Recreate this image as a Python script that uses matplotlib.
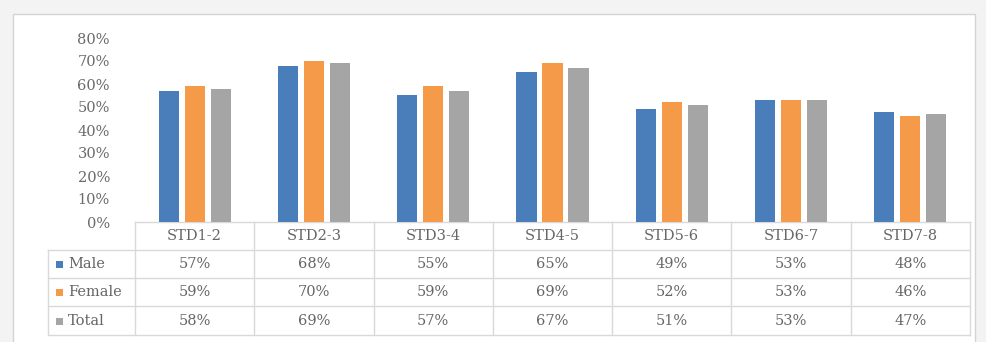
import matplotlib
matplotlib.use("Agg")
import matplotlib.pyplot as plt
from matplotlib.patches import Rectangle
from matplotlib.lines import Line2D
import matplotlib.transforms as mtransforms
import numpy as np

categories = ["STD1-2", "STD2-3", "STD3-4", "STD4-5", "STD5-6", "STD6-7", "STD7-8"]
series_names = ["Male", "Female", "Total"]
male = [57, 68, 55, 65, 49, 53, 48]
female = [59, 70, 59, 69, 52, 53, 46]
total = [58, 69, 57, 67, 51, 53, 47]
series_values = [male, female, total]
colors = ["#4a7ebb", "#f59a48", "#a5a5a5"]
yticks = [0, 10, 20, 30, 40, 50, 60, 70, 80]

W, H = 987, 342
fig = plt.figure(figsize=(W / 100, H / 100), dpi=100)
fig.patch.set_facecolor("#f3f3f3")

# pixel transform (origin top-left)
pix = mtransforms.Affine2D().scale(1, -1).translate(0, H).scale(1 / W, 1 / H) + fig.transFigure

# white panel
panel = Rectangle((13, 14), 962, 340, transform=pix, facecolor="white",
                  edgecolor="#d4d4d4", linewidth=1.0, zorder=-5)
fig.patches.append(panel)

ax_left, ax_right, y0, y80 = 135, 970, 222, 38
ax = fig.add_axes([ax_left / W, 1 - y0 / H, (ax_right - ax_left) / W, (y0 - y80) / H])
ax.set_facecolor("none")
ax.set_zorder(2)
n = len(categories)
x = np.arange(n) + 0.5
bw = 0.168
pitch = 0.218
for k, (vals, c) in enumerate(zip(series_values, colors)):
    ax.bar(x + (k - 1) * pitch, vals, width=bw, color=c, zorder=3)
ax.set_xlim(0, n)
ax.set_ylim(0, 80)
ax.set_yticks(yticks)
ax.set_yticklabels([f"{v}%" for v in yticks])
ax.set_xticks([])
for s in ["top", "right", "left"]:
    ax.spines[s].set_visible(False)
ax.spines["bottom"].set_color("#d9d9d9")
ax.spines["bottom"].set_linewidth(1.0)
ax.tick_params(axis="y", length=0, pad=18, labelsize=10.5, labelcolor="#6a6a6a")
for lab in ax.get_yticklabels():
    lab.set_fontfamily("DejaVu Serif")

# table drawn below the axes
tx = mtransforms.blended_transform_factory(ax.transData, pix)
lc = "#d9d9d9"
tc = "#666666"
font = dict(fontfamily="DejaVu Serif", fontsize=10.5, color=tc)
row_lines = [250, 278, 306, 335]
row_centers = [236, 264, 292, 321]
leg_left = 48

# vertical lines between categories
for i in range(n + 1):
    fig.add_artist(Line2D([i, i], [y0, row_lines[-1]], transform=tx, color=lc, lw=1.0))
# horizontal lines
for yl in row_lines:
    fig.add_artist(Line2D([leg_left, ax_right], [yl, yl], transform=pix, color=lc, lw=1.0))
fig.add_artist(Line2D([leg_left, leg_left], [row_lines[0], row_lines[-1]], transform=pix, color=lc, lw=1.0))

# header
for i, cat in enumerate(categories):
    fig.text(x[i], row_centers[0], cat, transform=tx, ha="center", va="center", **font)
# rows
for r, (name, vals, c) in enumerate(zip(series_names, series_values, colors)):
    yc = row_centers[r + 1]
    fig.patches.append(Rectangle((56, yc - 3.5), 7, 7, transform=pix, facecolor=c, edgecolor="none"))
    fig.text(68, yc, name, transform=pix, ha="left", va="center", **font)
    for i, v in enumerate(vals):
        fig.text(x[i], yc, f"{v}%", transform=tx, ha="center", va="center", **font)

fig.savefig("out.png", dpi=100, facecolor=fig.get_facecolor())
